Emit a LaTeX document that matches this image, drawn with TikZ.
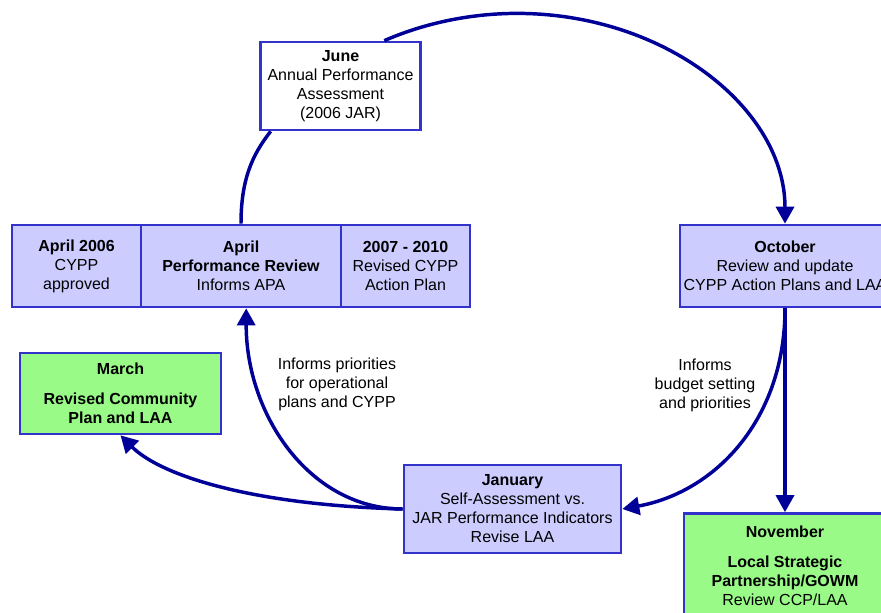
\documentclass[tikz,border=0pt]{standalone}
\usepackage{fontspec}
\setmainfont{Liberation Sans}
\usetikzlibrary{arrows.meta}
\definecolor{boxblue}{RGB}{51,51,204}
\definecolor{lav}{RGB}{204,204,255}
\definecolor{lgreen}{RGB}{153,250,136}
\definecolor{navy}{RGB}{0,0,153}
\begin{document}
\begin{tikzpicture}[x=0.75pt,y=-0.75pt,
  box/.style={draw=boxblue, line width=2pt, fill=lav, align=center, inner sep=0pt,
    font=\fontsize{12}{14.25}\selectfont, text=black},
  gbox/.style={box, fill=lgreen},
  wbox/.style={box, fill=white},
  conn/.style={draw=navy, line width=2.6pt},
  arr/.style={conn, -{Triangle[width=13.5pt,length=12.75pt]}},
  lbl/.style={align=center, font=\fontsize{12}{14.25}\selectfont}]
\clip (0,0) rectangle (881,613);

% boxes
\node[wbox, minimum width=120pt, minimum height=66pt] (june) at (340.5,86)
  {\textbf{June}\\Annual Performance\\Assessment\\(2006 JAR)};
\node[box, minimum width=96.75pt, minimum height=61.5pt] (a2006) at (76.5,266)
  {\textbf{April 2006}\\CYPP\\approved};
\node[box, minimum width=150pt, minimum height=61.5pt] (april) at (241,266)
  {\textbf{April}\\\textbf{Performance Review}\\Informs APA};
\node[box, minimum width=96.75pt, minimum height=61.5pt] (y0710) at (405.5,266)
  {\textbf{2007 - 2010}\\Revised CYPP\\Action Plan};
\node[box, minimum width=157.5pt, minimum height=61.5pt] (october) at (785,266)
  {\textbf{October}\\Review and update\\CYPP Action Plans and LAA};
\node[gbox, minimum width=150.75pt, minimum height=60.75pt] (march) at (120.5,393.5)
  {\textbf{March}\\[8pt]\textbf{Revised Community}\\\textbf{Plan and LAA}};
\node[box, minimum width=162.75pt, minimum height=66pt] (january) at (512.5,509)
  {\textbf{January}\\Self-Assessment vs.\\JAR Performance Indicators\\Revise LAA};
\node[gbox, minimum width=151.5pt, minimum height=78.75pt] (november) at (785,566)
  {\textbf{November}\\[8pt]\textbf{Local Strategic}\\\textbf{Partnership/GOWM}\\Review CCP/LAA};

% labels
\node[lbl] (l1) at (337,384) {Informs priorities\\for operational\\plans and CYPP};
\node[lbl] (l2) at (705,385) {Informs\\budget setting\\and priorities};

% connectors
\coordinate (top) at (517,13.4);
\draw[conn] (april.north) .. controls (241,180) and (252,155) .. (june.213);
\draw[arr] (june.46) .. controls (423.7,23.4) and (470,13.4) .. (top)
  .. controls (665,13.4) and (785,108.6) .. (october.north);
\draw[arr] (october.south) -- (november.north);
\draw[arr] (october.south) .. controls (785,420) and (715,492) .. (january.east);
\draw[arr] (january.west) .. controls (310,509) and (246,415) .. (april.-83);
\draw[arr] (january.west) .. controls (250,505) and (160,475) .. (march.south);
\end{tikzpicture}
\end{document}
